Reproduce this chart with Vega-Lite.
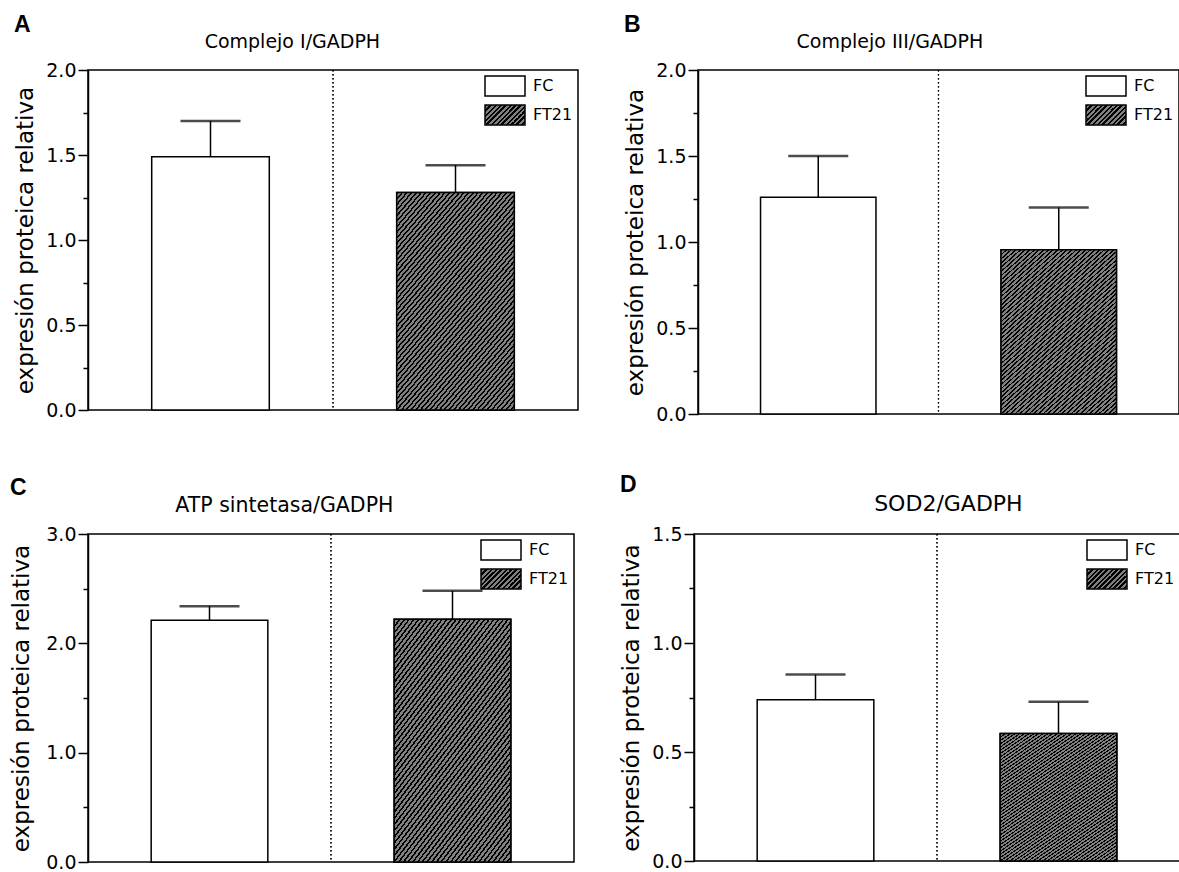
{
  "$schema": "https://vega.github.io/schema/vega-lite/v6.json",
  "background": "white",
  "padding": {"left": 10, "top": 14, "right": 0, "bottom": 0},
  "spacing": 49,
  "params": [
    {"name": "hatchLeg", "value": {"gradient": "linear", "x1": 0, "y1": 0, "x2": 1.2, "y2": 0.6, "stops": [
      {"offset": 0, "color": "black"}, {"offset": 0.035, "color": "black"}, {"offset": 0.035, "color": "gray"}, {"offset": 0.0833, "color": "gray"},
      {"offset": 0.0833, "color": "black"}, {"offset": 0.1183, "color": "black"}, {"offset": 0.1183, "color": "gray"}, {"offset": 0.1667, "color": "gray"},
      {"offset": 0.1667, "color": "black"}, {"offset": 0.2017, "color": "black"}, {"offset": 0.2017, "color": "gray"}, {"offset": 0.25, "color": "gray"},
      {"offset": 0.25, "color": "black"}, {"offset": 0.285, "color": "black"}, {"offset": 0.285, "color": "gray"}, {"offset": 0.3333, "color": "gray"},
      {"offset": 0.3333, "color": "black"}, {"offset": 0.3683, "color": "black"}, {"offset": 0.3683, "color": "gray"}, {"offset": 0.4167, "color": "gray"},
      {"offset": 0.4167, "color": "black"}, {"offset": 0.4517, "color": "black"}, {"offset": 0.4517, "color": "gray"}, {"offset": 0.5, "color": "gray"},
      {"offset": 0.5, "color": "black"}, {"offset": 0.535, "color": "black"}, {"offset": 0.535, "color": "gray"}, {"offset": 0.5833, "color": "gray"},
      {"offset": 0.5833, "color": "black"}, {"offset": 0.6183, "color": "black"}, {"offset": 0.6183, "color": "gray"}, {"offset": 0.6667, "color": "gray"},
      {"offset": 0.6667, "color": "black"}, {"offset": 0.7017, "color": "black"}, {"offset": 0.7017, "color": "gray"}, {"offset": 0.75, "color": "gray"},
      {"offset": 0.75, "color": "black"}, {"offset": 0.785, "color": "black"}, {"offset": 0.785, "color": "gray"}, {"offset": 0.8333, "color": "gray"},
      {"offset": 0.8333, "color": "black"}, {"offset": 0.8683, "color": "black"}, {"offset": 0.8683, "color": "gray"}, {"offset": 0.9167, "color": "gray"},
      {"offset": 0.9167, "color": "black"}, {"offset": 0.9517, "color": "black"}, {"offset": 0.9517, "color": "gray"}, {"offset": 1, "color": "gray"}
    ]}},
    {"name": "hatch", "value": {"gradient": "linear", "x1": 0, "y1": 0, "x2": 0.7366, "y2": 1.1663, "stops": [
      {"offset": 0, "color": "black"}, {"offset": 0.00625, "color": "black"}, {"offset": 0.00625, "color": "gray"}, {"offset": 0.015625, "color": "gray"},
      {"offset": 0.015625, "color": "black"}, {"offset": 0.021875, "color": "black"}, {"offset": 0.021875, "color": "gray"}, {"offset": 0.03125, "color": "gray"},
      {"offset": 0.03125, "color": "black"}, {"offset": 0.0375, "color": "black"}, {"offset": 0.0375, "color": "gray"}, {"offset": 0.046875, "color": "gray"},
      {"offset": 0.046875, "color": "black"}, {"offset": 0.053125, "color": "black"}, {"offset": 0.053125, "color": "gray"}, {"offset": 0.0625, "color": "gray"},
      {"offset": 0.0625, "color": "black"}, {"offset": 0.06875, "color": "black"}, {"offset": 0.06875, "color": "gray"}, {"offset": 0.078125, "color": "gray"},
      {"offset": 0.078125, "color": "black"}, {"offset": 0.084375, "color": "black"}, {"offset": 0.084375, "color": "gray"}, {"offset": 0.09375, "color": "gray"},
      {"offset": 0.09375, "color": "black"}, {"offset": 0.1, "color": "black"}, {"offset": 0.1, "color": "gray"}, {"offset": 0.109375, "color": "gray"},
      {"offset": 0.109375, "color": "black"}, {"offset": 0.115625, "color": "black"}, {"offset": 0.115625, "color": "gray"}, {"offset": 0.125, "color": "gray"},
      {"offset": 0.125, "color": "black"}, {"offset": 0.13125, "color": "black"}, {"offset": 0.13125, "color": "gray"}, {"offset": 0.140625, "color": "gray"},
      {"offset": 0.140625, "color": "black"}, {"offset": 0.146875, "color": "black"}, {"offset": 0.146875, "color": "gray"}, {"offset": 0.15625, "color": "gray"},
      {"offset": 0.15625, "color": "black"}, {"offset": 0.1625, "color": "black"}, {"offset": 0.1625, "color": "gray"}, {"offset": 0.171875, "color": "gray"},
      {"offset": 0.171875, "color": "black"}, {"offset": 0.178125, "color": "black"}, {"offset": 0.178125, "color": "gray"}, {"offset": 0.1875, "color": "gray"},
      {"offset": 0.1875, "color": "black"}, {"offset": 0.19375, "color": "black"}, {"offset": 0.19375, "color": "gray"}, {"offset": 0.203125, "color": "gray"},
      {"offset": 0.203125, "color": "black"}, {"offset": 0.209375, "color": "black"}, {"offset": 0.209375, "color": "gray"}, {"offset": 0.21875, "color": "gray"},
      {"offset": 0.21875, "color": "black"}, {"offset": 0.225, "color": "black"}, {"offset": 0.225, "color": "gray"}, {"offset": 0.234375, "color": "gray"},
      {"offset": 0.234375, "color": "black"}, {"offset": 0.240625, "color": "black"}, {"offset": 0.240625, "color": "gray"}, {"offset": 0.25, "color": "gray"},
      {"offset": 0.25, "color": "black"}, {"offset": 0.25625, "color": "black"}, {"offset": 0.25625, "color": "gray"}, {"offset": 0.265625, "color": "gray"},
      {"offset": 0.265625, "color": "black"}, {"offset": 0.271875, "color": "black"}, {"offset": 0.271875, "color": "gray"}, {"offset": 0.28125, "color": "gray"},
      {"offset": 0.28125, "color": "black"}, {"offset": 0.2875, "color": "black"}, {"offset": 0.2875, "color": "gray"}, {"offset": 0.296875, "color": "gray"},
      {"offset": 0.296875, "color": "black"}, {"offset": 0.303125, "color": "black"}, {"offset": 0.303125, "color": "gray"}, {"offset": 0.3125, "color": "gray"},
      {"offset": 0.3125, "color": "black"}, {"offset": 0.31875, "color": "black"}, {"offset": 0.31875, "color": "gray"}, {"offset": 0.328125, "color": "gray"},
      {"offset": 0.328125, "color": "black"}, {"offset": 0.334375, "color": "black"}, {"offset": 0.334375, "color": "gray"}, {"offset": 0.34375, "color": "gray"},
      {"offset": 0.34375, "color": "black"}, {"offset": 0.35, "color": "black"}, {"offset": 0.35, "color": "gray"}, {"offset": 0.359375, "color": "gray"},
      {"offset": 0.359375, "color": "black"}, {"offset": 0.365625, "color": "black"}, {"offset": 0.365625, "color": "gray"}, {"offset": 0.375, "color": "gray"},
      {"offset": 0.375, "color": "black"}, {"offset": 0.38125, "color": "black"}, {"offset": 0.38125, "color": "gray"}, {"offset": 0.390625, "color": "gray"},
      {"offset": 0.390625, "color": "black"}, {"offset": 0.396875, "color": "black"}, {"offset": 0.396875, "color": "gray"}, {"offset": 0.40625, "color": "gray"},
      {"offset": 0.40625, "color": "black"}, {"offset": 0.4125, "color": "black"}, {"offset": 0.4125, "color": "gray"}, {"offset": 0.421875, "color": "gray"},
      {"offset": 0.421875, "color": "black"}, {"offset": 0.428125, "color": "black"}, {"offset": 0.428125, "color": "gray"}, {"offset": 0.4375, "color": "gray"},
      {"offset": 0.4375, "color": "black"}, {"offset": 0.44375, "color": "black"}, {"offset": 0.44375, "color": "gray"}, {"offset": 0.453125, "color": "gray"},
      {"offset": 0.453125, "color": "black"}, {"offset": 0.459375, "color": "black"}, {"offset": 0.459375, "color": "gray"}, {"offset": 0.46875, "color": "gray"},
      {"offset": 0.46875, "color": "black"}, {"offset": 0.475, "color": "black"}, {"offset": 0.475, "color": "gray"}, {"offset": 0.484375, "color": "gray"},
      {"offset": 0.484375, "color": "black"}, {"offset": 0.490625, "color": "black"}, {"offset": 0.490625, "color": "gray"}, {"offset": 0.5, "color": "gray"},
      {"offset": 0.5, "color": "black"}, {"offset": 0.50625, "color": "black"}, {"offset": 0.50625, "color": "gray"}, {"offset": 0.515625, "color": "gray"},
      {"offset": 0.515625, "color": "black"}, {"offset": 0.521875, "color": "black"}, {"offset": 0.521875, "color": "gray"}, {"offset": 0.53125, "color": "gray"},
      {"offset": 0.53125, "color": "black"}, {"offset": 0.5375, "color": "black"}, {"offset": 0.5375, "color": "gray"}, {"offset": 0.546875, "color": "gray"},
      {"offset": 0.546875, "color": "black"}, {"offset": 0.553125, "color": "black"}, {"offset": 0.553125, "color": "gray"}, {"offset": 0.5625, "color": "gray"},
      {"offset": 0.5625, "color": "black"}, {"offset": 0.56875, "color": "black"}, {"offset": 0.56875, "color": "gray"}, {"offset": 0.578125, "color": "gray"},
      {"offset": 0.578125, "color": "black"}, {"offset": 0.584375, "color": "black"}, {"offset": 0.584375, "color": "gray"}, {"offset": 0.59375, "color": "gray"},
      {"offset": 0.59375, "color": "black"}, {"offset": 0.6, "color": "black"}, {"offset": 0.6, "color": "gray"}, {"offset": 0.609375, "color": "gray"},
      {"offset": 0.609375, "color": "black"}, {"offset": 0.615625, "color": "black"}, {"offset": 0.615625, "color": "gray"}, {"offset": 0.625, "color": "gray"},
      {"offset": 0.625, "color": "black"}, {"offset": 0.63125, "color": "black"}, {"offset": 0.63125, "color": "gray"}, {"offset": 0.640625, "color": "gray"},
      {"offset": 0.640625, "color": "black"}, {"offset": 0.646875, "color": "black"}, {"offset": 0.646875, "color": "gray"}, {"offset": 0.65625, "color": "gray"},
      {"offset": 0.65625, "color": "black"}, {"offset": 0.6625, "color": "black"}, {"offset": 0.6625, "color": "gray"}, {"offset": 0.671875, "color": "gray"},
      {"offset": 0.671875, "color": "black"}, {"offset": 0.678125, "color": "black"}, {"offset": 0.678125, "color": "gray"}, {"offset": 0.6875, "color": "gray"},
      {"offset": 0.6875, "color": "black"}, {"offset": 0.69375, "color": "black"}, {"offset": 0.69375, "color": "gray"}, {"offset": 0.703125, "color": "gray"},
      {"offset": 0.703125, "color": "black"}, {"offset": 0.709375, "color": "black"}, {"offset": 0.709375, "color": "gray"}, {"offset": 0.71875, "color": "gray"},
      {"offset": 0.71875, "color": "black"}, {"offset": 0.725, "color": "black"}, {"offset": 0.725, "color": "gray"}, {"offset": 0.734375, "color": "gray"},
      {"offset": 0.734375, "color": "black"}, {"offset": 0.740625, "color": "black"}, {"offset": 0.740625, "color": "gray"}, {"offset": 0.75, "color": "gray"},
      {"offset": 0.75, "color": "black"}, {"offset": 0.75625, "color": "black"}, {"offset": 0.75625, "color": "gray"}, {"offset": 0.765625, "color": "gray"},
      {"offset": 0.765625, "color": "black"}, {"offset": 0.771875, "color": "black"}, {"offset": 0.771875, "color": "gray"}, {"offset": 0.78125, "color": "gray"},
      {"offset": 0.78125, "color": "black"}, {"offset": 0.7875, "color": "black"}, {"offset": 0.7875, "color": "gray"}, {"offset": 0.796875, "color": "gray"},
      {"offset": 0.796875, "color": "black"}, {"offset": 0.803125, "color": "black"}, {"offset": 0.803125, "color": "gray"}, {"offset": 0.8125, "color": "gray"},
      {"offset": 0.8125, "color": "black"}, {"offset": 0.81875, "color": "black"}, {"offset": 0.81875, "color": "gray"}, {"offset": 0.828125, "color": "gray"},
      {"offset": 0.828125, "color": "black"}, {"offset": 0.834375, "color": "black"}, {"offset": 0.834375, "color": "gray"}, {"offset": 0.84375, "color": "gray"},
      {"offset": 0.84375, "color": "black"}, {"offset": 0.85, "color": "black"}, {"offset": 0.85, "color": "gray"}, {"offset": 0.859375, "color": "gray"},
      {"offset": 0.859375, "color": "black"}, {"offset": 0.865625, "color": "black"}, {"offset": 0.865625, "color": "gray"}, {"offset": 0.875, "color": "gray"},
      {"offset": 0.875, "color": "black"}, {"offset": 0.88125, "color": "black"}, {"offset": 0.88125, "color": "gray"}, {"offset": 0.890625, "color": "gray"},
      {"offset": 0.890625, "color": "black"}, {"offset": 0.896875, "color": "black"}, {"offset": 0.896875, "color": "gray"}, {"offset": 0.90625, "color": "gray"},
      {"offset": 0.90625, "color": "black"}, {"offset": 0.9125, "color": "black"}, {"offset": 0.9125, "color": "gray"}, {"offset": 0.921875, "color": "gray"},
      {"offset": 0.921875, "color": "black"}, {"offset": 0.928125, "color": "black"}, {"offset": 0.928125, "color": "gray"}, {"offset": 0.9375, "color": "gray"},
      {"offset": 0.9375, "color": "black"}, {"offset": 0.94375, "color": "black"}, {"offset": 0.94375, "color": "gray"}, {"offset": 0.953125, "color": "gray"},
      {"offset": 0.953125, "color": "black"}, {"offset": 0.959375, "color": "black"}, {"offset": 0.959375, "color": "gray"}, {"offset": 0.96875, "color": "gray"},
      {"offset": 0.96875, "color": "black"}, {"offset": 0.975, "color": "black"}, {"offset": 0.975, "color": "gray"}, {"offset": 0.984375, "color": "gray"},
      {"offset": 0.984375, "color": "black"}, {"offset": 0.990625, "color": "black"}, {"offset": 0.990625, "color": "gray"}, {"offset": 1, "color": "gray"}
    ]}}
  ],
  "resolve": {"scale": {"fill": "independent"}, "legend": {"fill": "independent"}},
  "vconcat": [
    {
      "hconcat": [
        {
          "title": {"text": "A", "anchor": "start", "font": "Liberation Sans", "fontSize": 23, "fontWeight": "bold", "offset": 0, "dy": 5},
          "resolve": {"scale": {"fill": "independent"}, "legend": {"fill": "independent"}},
          "vconcat": [
            {
              "title": {"text": "Complejo I/GADPH", "offset": 9, "frame": "bounds", "dx": -4},
              "width": 490, "height": 340,
              "data": {"values": [
                {"grupo": "FC", "media": 1.49, "sup": 1.70},
                {"grupo": "FT21", "media": 1.28, "sup": 1.44}
              ]},
              "encoding": {"x": {"field": "grupo", "type": "nominal", "axis": null, "scale": {"paddingInner": 0, "paddingOuter": 0}}},
              "layer": [
                {"mark": {"type": "rule", "strokeDash": [1.5, 2.5], "strokeWidth": 1.2, "color": "black"}, "encoding": {"x": {"datum": "FT21", "type": "nominal", "bandPosition": 0}}},
                {"mark": {"type": "bar", "stroke": "black", "strokeWidth": 1.5, "width": {"band": 0.48}},
                 "encoding": {
                   "y": {"field": "media", "type": "quantitative", "scale": {"domain": [0, 2], "nice": false},
                         "axis": {"title": "expresión proteica relativa", "values": [0, 0.25, 0.5, 0.75, 1, 1.25, 1.5, 1.75, 2], "format": ".1f",
                                  "labelExpr": "datum.value % 0.5 === 0 ? datum.label : ''",
                                  "tickSize": {"condition": {"test": "datum.value % 0.5 !== 0", "value": 5}, "value": 10}}},
                   "fill": {"field": "grupo", "type": "nominal", "scale": {"range": ["white", {"expr": "hatchLeg"}]},
                            "legend": {"title": null, "symbolStrokeColor": "black", "symbolStrokeWidth": 1.5}}
                 }},
                {"transform": [{"filter": "datum.grupo === 'FT21'"}], "mark": {"type": "bar", "fill": {"expr": "hatch"}, "stroke": "black", "strokeWidth": 1.5, "width": {"band": 0.48}}, "encoding": {"y": {"field": "media", "type": "quantitative"}}},
                {"mark": {"type": "rule", "strokeWidth": 1.5, "color": "black"}, "encoding": {"y": {"field": "media", "type": "quantitative"}, "y2": {"field": "sup"}}},
                {"mark": {"type": "tick", "size": 60, "thickness": 2.5, "color": "black"}, "encoding": {"y": {"field": "sup", "type": "quantitative"}}}
              ]
            }
          ]
        },
        {
          "title": {"text": "B", "anchor": "start", "font": "Liberation Sans", "fontSize": 23, "fontWeight": "bold", "offset": 0, "dy": 5},
          "resolve": {"scale": {"fill": "independent"}, "legend": {"fill": "independent"}},
          "vconcat": [
            {
              "title": {"text": "Complejo III/GADPH", "offset": 9, "frame": "bounds", "dx": -12},
              "width": 481, "height": 344,
              "data": {"values": [
                {"grupo": "FC", "media": 1.26, "sup": 1.50},
                {"grupo": "FT21", "media": 0.955, "sup": 1.20}
              ]},
              "encoding": {"x": {"field": "grupo", "type": "nominal", "axis": null, "scale": {"paddingInner": 0, "paddingOuter": 0}}},
              "layer": [
                {"mark": {"type": "rule", "strokeDash": [1.5, 2.5], "strokeWidth": 1.2, "color": "black"}, "encoding": {"x": {"datum": "FT21", "type": "nominal", "bandPosition": 0}}},
                {"mark": {"type": "bar", "stroke": "black", "strokeWidth": 1.5, "width": {"band": 0.48}},
                 "encoding": {
                   "y": {"field": "media", "type": "quantitative", "scale": {"domain": [0, 2], "nice": false},
                         "axis": {"title": "expresión proteica relativa", "values": [0, 0.25, 0.5, 0.75, 1, 1.25, 1.5, 1.75, 2], "format": ".1f",
                                  "labelExpr": "datum.value % 0.5 === 0 ? datum.label : ''",
                                  "tickSize": {"condition": {"test": "datum.value % 0.5 !== 0", "value": 5}, "value": 10}}},
                   "fill": {"field": "grupo", "type": "nominal", "scale": {"range": ["white", {"expr": "hatchLeg"}]},
                            "legend": {"title": null, "symbolStrokeColor": "black", "symbolStrokeWidth": 1.5}}
                 }},
                {"transform": [{"filter": "datum.grupo === 'FT21'"}], "mark": {"type": "bar", "fill": {"expr": "hatch"}, "stroke": "black", "strokeWidth": 1.5, "width": {"band": 0.48}}, "encoding": {"y": {"field": "media", "type": "quantitative"}}},
                {"mark": {"type": "rule", "strokeWidth": 1.5, "color": "black"}, "encoding": {"y": {"field": "media", "type": "quantitative"}, "y2": {"field": "sup"}}},
                {"mark": {"type": "tick", "size": 60, "thickness": 2.5, "color": "black"}, "encoding": {"y": {"field": "sup", "type": "quantitative"}}}
              ]
            }
          ]
        }
      ],
      "spacing": 45,
      "resolve": {"scale": {"fill": "independent"}, "legend": {"fill": "independent"}}
    },
    {
      "hconcat": [
        {
          "title": {"text": "C", "anchor": "start", "font": "Liberation Sans", "fontSize": 23, "fontWeight": "bold", "offset": 0, "dy": 5},
          "resolve": {"scale": {"fill": "independent"}, "legend": {"fill": "independent"}},
          "vconcat": [
            {
              "title": {"text": "ATP sintetasa/GADPH", "offset": 9, "frame": "bounds", "dx": -8, "fontSize": 20.5},
              "width": 486, "height": 328,
              "data": {"values": [
                {"grupo": "FC", "media": 2.21, "sup": 2.34},
                {"grupo": "FT21", "media": 2.22, "sup": 2.48}
              ]},
              "encoding": {"x": {"field": "grupo", "type": "nominal", "axis": null, "scale": {"paddingInner": 0, "paddingOuter": 0}}},
              "layer": [
                {"mark": {"type": "rule", "strokeDash": [1.5, 2.5], "strokeWidth": 1.2, "color": "black"}, "encoding": {"x": {"datum": "FT21", "type": "nominal", "bandPosition": 0}}},
                {"mark": {"type": "bar", "stroke": "black", "strokeWidth": 1.5, "width": {"band": 0.48}},
                 "encoding": {
                   "y": {"field": "media", "type": "quantitative", "scale": {"domain": [0, 3], "nice": false},
                         "axis": {"title": "expresión proteica relativa", "titlePadding": 12, "values": [0, 0.5, 1, 1.5, 2, 2.5, 3], "format": ".1f",
                                  "labelExpr": "datum.value % 1 === 0 ? datum.label : ''",
                                  "tickSize": {"condition": {"test": "datum.value % 1 !== 0", "value": 5}, "value": 10}}},
                   "fill": {"field": "grupo", "type": "nominal", "scale": {"range": ["white", {"expr": "hatchLeg"}]},
                            "legend": {"title": null, "symbolStrokeColor": "black", "symbolStrokeWidth": 1.5}}
                 }},
                {"transform": [{"filter": "datum.grupo === 'FT21'"}], "mark": {"type": "bar", "fill": {"expr": "hatch"}, "stroke": "black", "strokeWidth": 1.5, "width": {"band": 0.48}}, "encoding": {"y": {"field": "media", "type": "quantitative"}}},
                {"mark": {"type": "rule", "strokeWidth": 1.5, "color": "black"}, "encoding": {"y": {"field": "media", "type": "quantitative"}, "y2": {"field": "sup"}}},
                {"mark": {"type": "tick", "size": 60, "thickness": 2.5, "color": "black"}, "encoding": {"y": {"field": "sup", "type": "quantitative"}}}
              ]
            }
          ]
        },
        {
          "title": {"text": "D", "anchor": "start", "font": "Liberation Sans", "fontSize": 23, "fontWeight": "bold", "offset": 0, "dy": 5},
          "resolve": {"scale": {"fill": "independent"}, "legend": {"fill": "independent"}},
          "vconcat": [
            {
              "title": {"text": "SOD2/GADPH", "offset": 9, "frame": "bounds", "dx": 48, "fontSize": 22},
              "width": 486, "height": 327,
              "data": {"values": [
                {"grupo": "FC", "media": 0.74, "sup": 0.855},
                {"grupo": "FT21", "media": 0.585, "sup": 0.73}
              ]},
              "encoding": {"x": {"field": "grupo", "type": "nominal", "axis": null, "scale": {"paddingInner": 0, "paddingOuter": 0}}},
              "layer": [
                {"mark": {"type": "rule", "strokeDash": [1.5, 2.5], "strokeWidth": 1.2, "color": "black"}, "encoding": {"x": {"datum": "FT21", "type": "nominal", "bandPosition": 0}}},
                {"mark": {"type": "bar", "stroke": "black", "strokeWidth": 1.5, "width": {"band": 0.48}},
                 "encoding": {
                   "y": {"field": "media", "type": "quantitative", "scale": {"domain": [0, 1.5], "nice": false},
                         "axis": {"title": "expresión proteica relativa", "values": [0, 0.25, 0.5, 0.75, 1, 1.25, 1.5], "format": ".1f",
                                  "labelExpr": "datum.value % 0.5 === 0 ? datum.label : ''",
                                  "tickSize": {"condition": {"test": "datum.value % 0.5 !== 0", "value": 5}, "value": 10}}},
                   "fill": {"field": "grupo", "type": "nominal", "scale": {"range": ["white", {"expr": "hatchLeg"}]},
                            "legend": {"title": null, "symbolStrokeColor": "black", "symbolStrokeWidth": 1.5}}
                 }},
                {"transform": [{"filter": "datum.grupo === 'FT21'"}], "mark": {"type": "bar", "fill": {"expr": "hatch"}, "stroke": "black", "strokeWidth": 1.5, "width": {"band": 0.48}}, "encoding": {"y": {"field": "media", "type": "quantitative"}}},
                {"mark": {"type": "rule", "strokeWidth": 1.5, "color": "black"}, "encoding": {"y": {"field": "media", "type": "quantitative"}, "y2": {"field": "sup"}}},
                {"mark": {"type": "tick", "size": 60, "thickness": 2.5, "color": "black"}, "encoding": {"y": {"field": "sup", "type": "quantitative"}}}
              ]
            }
          ]
        }
      ],
      "spacing": 45,
      "resolve": {"scale": {"fill": "independent"}, "legend": {"fill": "independent"}}
    }
  ],
  "config": {
    "font": "DejaVu Sans",
    "view": {"stroke": "black", "strokeWidth": 1.5},
    "title": {"font": "DejaVu Sans", "fontSize": 19, "fontWeight": "normal", "color": "black"},
    "axisY": {"domainColor": "black", "domainWidth": 1.5, "tickColor": "black", "tickWidth": 1.5, "labelFont": "DejaVu Sans", "labelFontSize": 19, "labelColor": "black", "labelPadding": 2, "labelFlush": false, "labelOverlap": false, "titleFont": "DejaVu Sans", "titleFontSize": 23, "titleFontWeight": "normal", "titleColor": "black", "titlePadding": 8, "grid": false},
    "legend": {"orient": "top-right", "offset": 5, "padding": 0, "symbolType": "M-1,-1H3V1H-1Z", "symbolSize": 400, "symbolStrokeColor": "black", "symbolStrokeWidth": 1.5, "symbolOpacity": 1, "labelFont": "DejaVu Sans", "labelFontSize": 16, "labelColor": "black", "labelOffset": 27, "rowPadding": 3}
  }
}
